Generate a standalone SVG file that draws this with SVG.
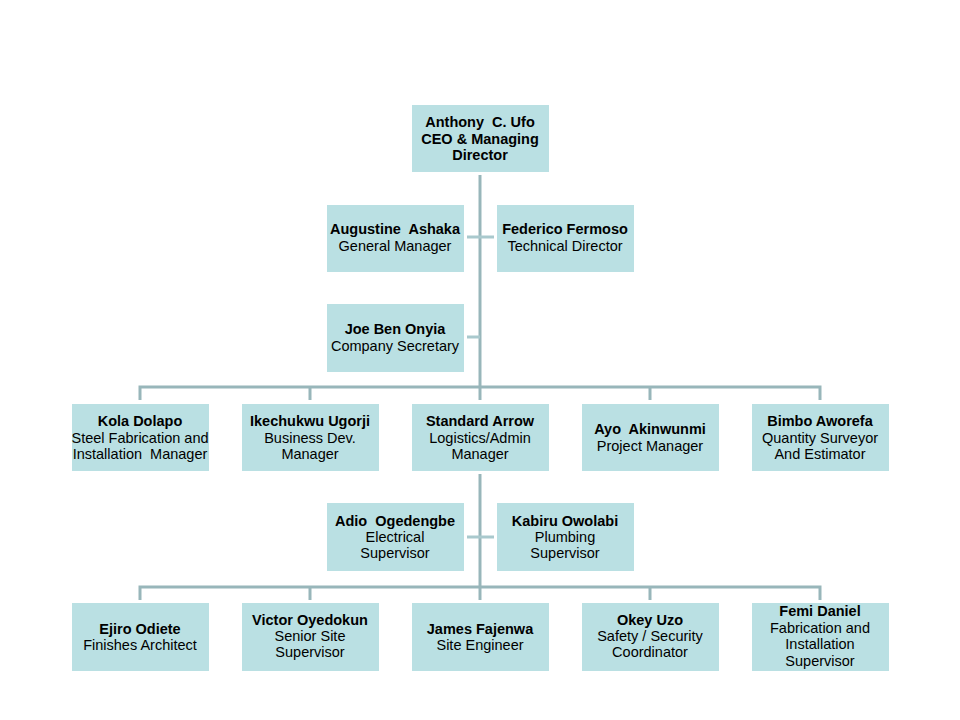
<svg xmlns="http://www.w3.org/2000/svg" width="960" height="720" viewBox="0 0 960 720">
<style>
.box{fill:#bae0e3}
.ln{stroke:#98b6ba;stroke-width:3;fill:none}
.st{stroke:#a9c9cd;stroke-width:3;fill:none}
text{font-family:"Liberation Sans",Arial,sans-serif;font-size:14.5px;fill:#000;text-anchor:middle;white-space:pre}
.b{font-weight:bold}
</style>
<rect width="960" height="720" fill="#fff"/>
<g id="connectors">
<path class="ln" d="M480,175V400"/>
<path class="st" d="M467,237H494M467,337H480"/>
<path class="ln" d="M140,400V387H820V400M310,387V400M650,387V400"/>
<path class="ln" d="M480,474V600"/>
<path class="st" d="M467,537H494"/>
<path class="ln" d="M140,600V587H820V600M310,587V600M650,587V600"/>
</g>
<g id="n-ceo"><rect class="box" x="412" y="105" width="137" height="67"/><text x="480" y="127" class="b" xml:space="preserve">Anthony  C. Ufo</text><text x="480" y="144" class="b">CEO &amp; Managing</text><text x="480" y="160" class="b">Director</text></g>
<g id="n-gm"><rect class="box" x="327" y="205" width="137" height="67"/><text x="395" y="234" class="b" xml:space="preserve">Augustine  Ashaka</text><text x="395" y="251">General Manager</text></g>
<g id="n-td"><rect class="box" x="497" y="205" width="137" height="67"/><text x="565" y="234" class="b">Federico Fermoso</text><text x="565" y="251">Technical Director</text></g>
<g id="n-cs"><rect class="box" x="327" y="304" width="137" height="68"/><text x="395" y="334" class="b">Joe Ben Onyia</text><text x="395" y="351">Company Secretary</text></g>
<g id="n-kola"><rect class="box" x="72" y="404" width="137" height="67"/><text x="140" y="426" class="b">Kola Dolapo</text><text x="140" y="443">Steel Fabrication and</text><text x="140" y="459" xml:space="preserve">Installation  Manager</text></g>
<g id="n-ike"><rect class="box" x="242" y="404" width="137" height="67"/><text x="310" y="426" class="b">Ikechukwu Ugorji</text><text x="310" y="443">Business Dev.</text><text x="310" y="459">Manager</text></g>
<g id="n-sa"><rect class="box" x="412" y="404" width="137" height="67"/><text x="480" y="426" class="b">Standard Arrow</text><text x="480" y="443">Logistics/Admin</text><text x="480" y="459">Manager</text></g>
<g id="n-ayo"><rect class="box" x="582" y="404" width="137" height="67"/><text x="650" y="434" class="b" xml:space="preserve">Ayo  Akinwunmi</text><text x="650" y="451">Project Manager</text></g>
<g id="n-bimbo"><rect class="box" x="752" y="404" width="137" height="67"/><text x="820" y="426" class="b">Bimbo Aworefa</text><text x="820" y="443">Quantity Surveyor</text><text x="820" y="459">And Estimator</text></g>
<g id="n-adio"><rect class="box" x="327" y="503" width="137" height="68"/><text x="395" y="526" class="b" xml:space="preserve">Adio  Ogedengbe</text><text x="395" y="542">Electrical</text><text x="395" y="558">Supervisor</text></g>
<g id="n-kabiru"><rect class="box" x="497" y="503" width="137" height="68"/><text x="565" y="526" class="b">Kabiru Owolabi</text><text x="565" y="542">Plumbing</text><text x="565" y="558">Supervisor</text></g>
<g id="n-ejiro"><rect class="box" x="72" y="603" width="137" height="68"/><text x="140" y="634" class="b">Ejiro Odiete</text><text x="140" y="650">Finishes Architect</text></g>
<g id="n-victor"><rect class="box" x="242" y="603" width="137" height="68"/><text x="310" y="625" class="b">Victor Oyedokun</text><text x="310" y="641">Senior Site</text><text x="310" y="657">Supervisor</text></g>
<g id="n-james"><rect class="box" x="412" y="603" width="137" height="68"/><text x="480" y="634" class="b">James Fajenwa</text><text x="480" y="650">Site Engineer</text></g>
<g id="n-okey"><rect class="box" x="582" y="603" width="137" height="68"/><text x="650" y="625" class="b">Okey Uzo</text><text x="650" y="641">Safety / Security</text><text x="650" y="657">Coordinator</text></g>
<g id="n-femi"><rect class="box" x="752" y="603" width="137" height="68"/><text x="820" y="616" class="b">Femi Daniel</text><text x="820" y="633">Fabrication and</text><text x="820" y="649">Installation</text><text x="820" y="666">Supervisor</text></g>
</svg>
